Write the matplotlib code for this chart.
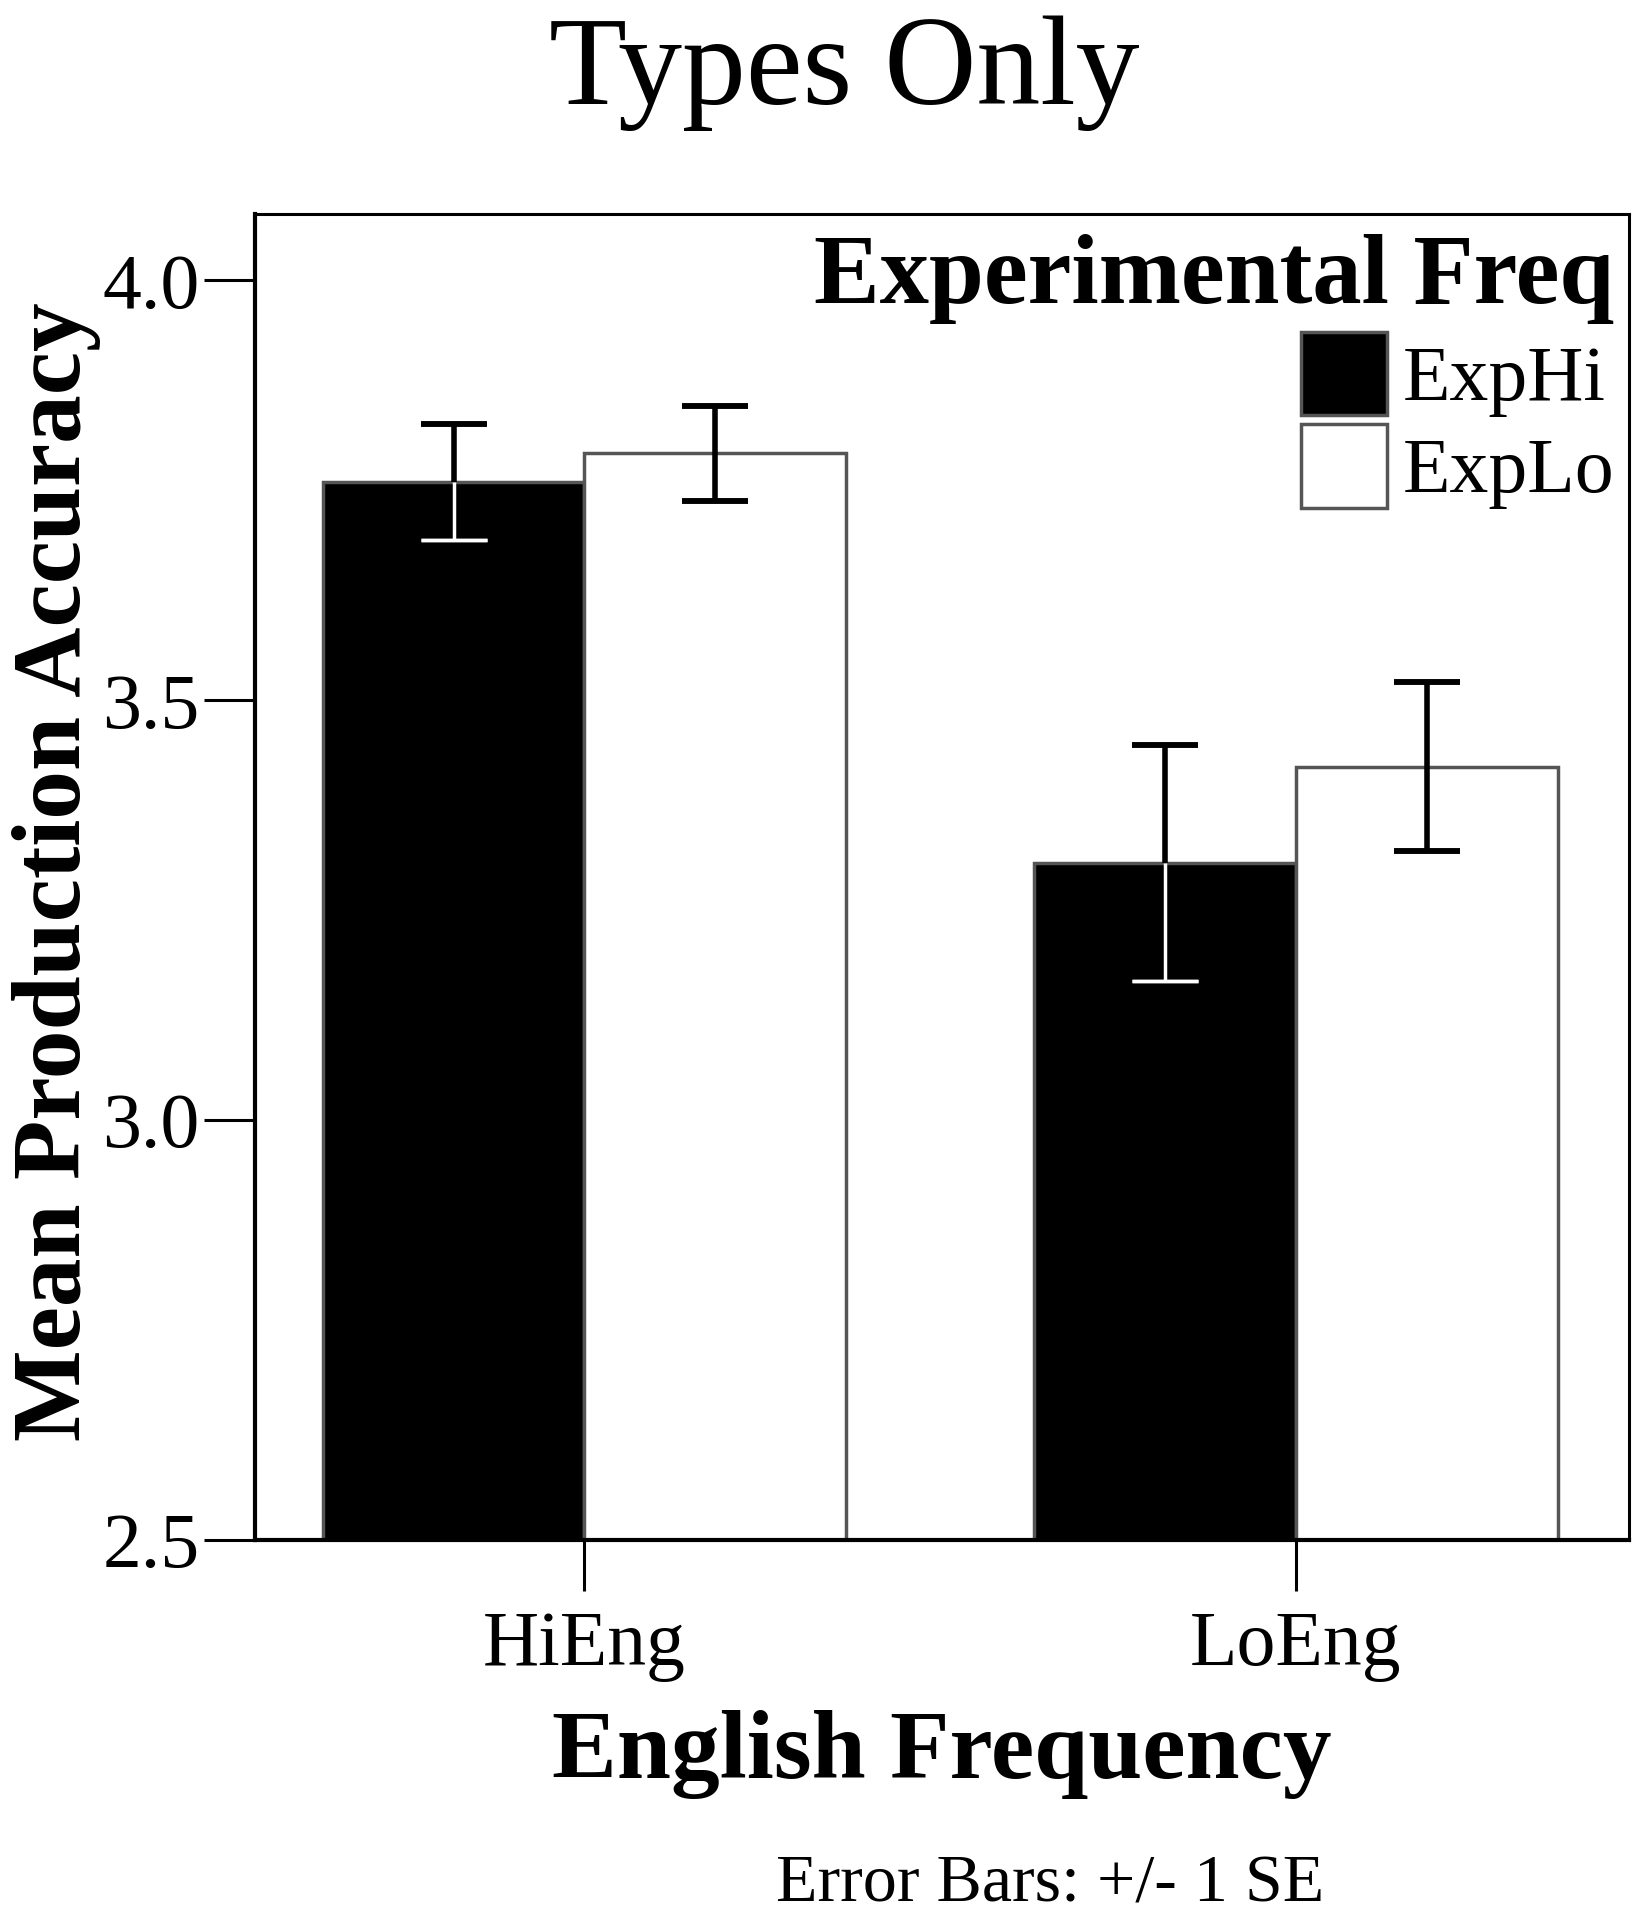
import matplotlib
matplotlib.use("Agg")
import matplotlib.pyplot as plt
import numpy as np

categories = ["HiEng", "LoEng"]
series_names = ["ExpHi", "ExpLo"]
exphi_means = [3.760, 3.306]
exphi_se = [0.069, 0.141]
explo_means = [3.794, 3.421]
explo_se = [0.057, 0.101]
yticks = [2.5, 3.0, 3.5, 4.0]

plt.rcParams['font.family'] = ['Liberation Serif', 'DejaVu Serif']

fig = plt.figure(figsize=(16.46, 19.2), dpi=100)
ax = fig.add_axes([0.155, 0.198, 0.8345, 0.6905])

x = np.arange(len(categories))
w = 0.368
face = ["black", "white"]
edge = ["#555555", "#555555"]
data = [(exphi_means, exphi_se), (explo_means, explo_se)]
offs = [-w / 2, w / 2]
handles = []
for i, (m, se) in enumerate(data):
    b = ax.bar(x + offs[i], m, width=w, color=face[i], edgecolor=edge[i],
               linewidth=2.5, bottom=0, zorder=2, label=series_names[i])
    handles.append(b)
    m = np.array(m); se = np.array(se)
    # upper half
    ax.errorbar(x + offs[i], m + se / 2, yerr=se / 2, fmt='none', ecolor='black',
                elinewidth=4, capsize=0, zorder=3)
    ax.errorbar(x + offs[i], m + se, yerr=0, fmt='none', ecolor='black',
                elinewidth=0, capsize=24, capthick=4, zorder=3)
    # lower half
    lc = 'white' if i == 0 else 'black'
    lw = 2.5 if i == 0 else 4
    ax.errorbar(x + offs[i], m - se / 2, yerr=se / 2, fmt='none', ecolor=lc,
                elinewidth=lw, capsize=0, zorder=3)
    ax.errorbar(x + offs[i], m - se, yerr=0, fmt='none', ecolor=lc,
                elinewidth=0, capsize=24, capthick=lw, zorder=3)

ax.set_xlim(-0.463, 1.468)
ax.set_ylim(2.5, 4.079)
ax.set_yticks(yticks)
ax.set_yticklabels([f"{v:.1f}" for v in yticks])
ax.set_xticks(x)
ax.set_xticklabels(categories)
ax.tick_params(axis='y', length=37, width=2.2, labelsize=56, pad=3, direction='out')
ax.tick_params(axis='x', length=37, width=2.2, labelsize=56, pad=14, direction='out')
for s in ['left', 'bottom']:
    ax.spines[s].set_linewidth(3)
for s in ['top', 'right']:
    ax.spines[s].set_linewidth(2.2)

ax.set_ylabel("Mean Production Accuracy", fontsize=70, fontweight='bold')
ax.yaxis.set_label_coords(-0.112, 0.504)
ax.set_xlabel("English Frequency", fontsize=70, fontweight='bold')
ax.xaxis.set_label_coords(0.5, -0.128)

fig.text(0.513, 0.962, "Types Only", ha='center', va='center', fontsize=92)
fig.text(0.638, 0.018, "Error Bars: +/- 1 SE", ha='center', va='center', fontsize=49)

leg = ax.legend(handles=handles, labels=series_names, title="Experimental Freq",
                loc='upper right', bbox_to_anchor=(1.029, 1.026), frameon=False,
                fontsize=56, title_fontproperties={'size': 71, 'weight': 'bold'},
                handlelength=1.1, handleheight=1.27, labelspacing=0.1,
                handletextpad=0.2, alignment='right', borderpad=0.2)

fig.savefig("out.png", dpi=100, facecolor='white')
